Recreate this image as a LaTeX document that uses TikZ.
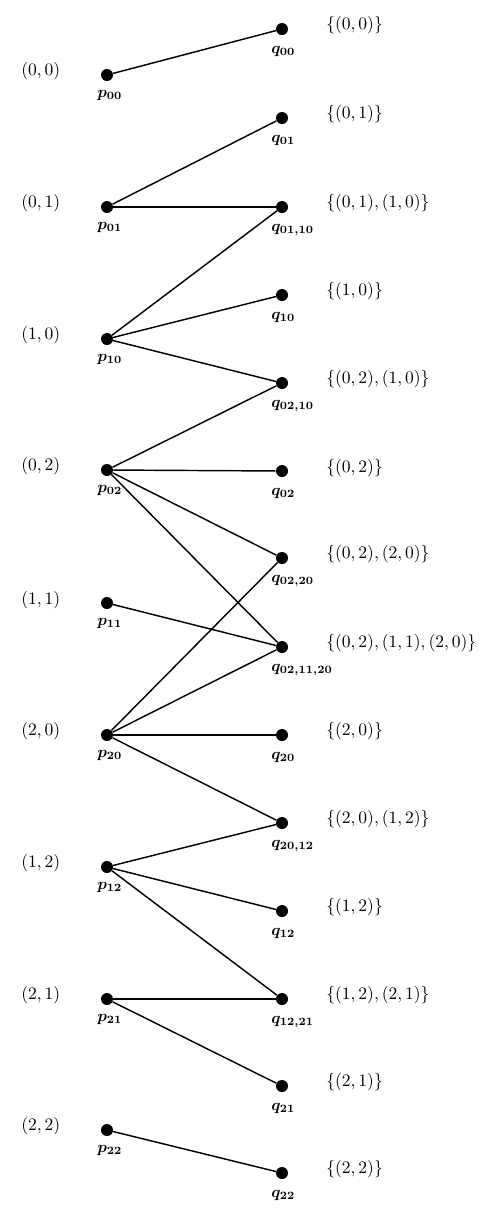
\documentclass[tikz,border=0pt]{standalone}
\begin{document}
\begin{tikzpicture}[x=0.625pt,y=-0.625pt,
  dot/.style={circle,fill=black,inner sep=0pt,minimum size=7.5pt},
  edge/.style={line width=0.9pt},
  sub/.style={anchor=north west,inner sep=0pt,font=\boldmath\fontsize{10}{12}\selectfont},
  coord/.style={anchor=west,inner sep=0pt,font=\fontsize{11}{13}\selectfont},
  setl/.style={anchor=west,inner sep=0pt,font=\fontsize{11}{13}\selectfont}]
\useasboundingbox (0,0) rectangle (490,1214);
% left nodes
\node[dot] (p00) at (107,75) {};
\node[dot] (p01) at (107,207) {};
\node[dot] (p10) at (107,339) {};
\node[dot] (p02) at (107,470) {};
\node[dot] (p11) at (107,603) {};
\node[dot] (p20) at (107,735) {};
\node[dot] (p12) at (107,867) {};
\node[dot] (p21) at (107,999) {};
\node[dot] (p22) at (107,1130) {};
% right nodes
\node[dot] (q00) at (282,29) {};
\node[dot] (q01) at (282,118) {};
\node[dot] (q0110) at (282,207) {};
\node[dot] (q10) at (282,295) {};
\node[dot] (q0210) at (282,383) {};
\node[dot] (q02) at (282,471) {};
\node[dot] (q0220) at (282,558) {};
\node[dot] (q021120) at (282,647) {};
\node[dot] (q20) at (282,735) {};
\node[dot] (q2012) at (282,823) {};
\node[dot] (q12) at (282,911) {};
\node[dot] (q1221) at (282,999) {};
\node[dot] (q21) at (282,1086) {};
\node[dot] (q22) at (282,1173) {};
% edges
\draw[edge] (p00) -- (q00);
\draw[edge] (p01) -- (q01);
\draw[edge] (p01) -- (q0110);
\draw[edge] (p10) -- (q0110);
\draw[edge] (p10) -- (q10);
\draw[edge] (p10) -- (q0210);
\draw[edge] (p02) -- (q0210);
\draw[edge] (p02) -- (q02);
\draw[edge] (p02) -- (q0220);
\draw[edge] (p02) -- (q021120);
\draw[edge] (p11) -- (q021120);
\draw[edge] (p20) -- (q0220);
\draw[edge] (p20) -- (q021120);
\draw[edge] (p20) -- (q20);
\draw[edge] (p20) -- (q2012);
\draw[edge] (p12) -- (q2012);
\draw[edge] (p12) -- (q12);
\draw[edge] (p12) -- (q1221);
\draw[edge] (p21) -- (q1221);
\draw[edge] (p21) -- (q21);
\draw[edge] (p22) -- (q22);
% p labels
\node[sub] (lp00) at (97,90) {$p_{00}$};
\node[sub] (lp01) at (97,222) {$p_{01}$};
\node[sub] (lp10) at (97,354) {$p_{10}$};
\node[sub] (lp02) at (97,485) {$p_{02}$};
\node[sub] (lp11) at (97,618) {$p_{11}$};
\node[sub] (lp20) at (97,750) {$p_{20}$};
\node[sub] (lp12) at (97,882) {$p_{12}$};
\node[sub] (lp21) at (97,1014) {$p_{21}$};
\node[sub] (lp22) at (97,1145) {$p_{22}$};
% q labels
\node[sub] (lq00) at (271,46) {$q_{00}$};
\node[sub] (lq01) at (271,135) {$q_{01}$};
\node[sub] (lq0110) at (271,224) {$q_{01,10}$};
\node[sub] (lq10) at (271,312) {$q_{10}$};
\node[sub] (lq0210) at (271,400) {$q_{02,10}$};
\node[sub] (lq02) at (271,488) {$q_{02}$};
\node[sub] (lq0220) at (271,575) {$q_{02,20}$};
\node[sub] (lq021120) at (271,664) {$q_{02,11,20}$};
\node[sub] (lq20) at (271,752) {$q_{20}$};
\node[sub] (lq2012) at (271,840) {$q_{20,12}$};
\node[sub] (lq12) at (271,928) {$q_{12}$};
\node[sub] (lq1221) at (271,1016) {$q_{12,21}$};
\node[sub] (lq21) at (271,1103) {$q_{21}$};
\node[sub] (lq22) at (271,1190) {$q_{22}$};
% coordinate labels
\node[coord] (c00) at (21,71) {$(0,0)$};
\node[coord] (c01) at (21,203) {$(0,1)$};
\node[coord] (c10) at (21,335) {$(1,0)$};
\node[coord] (c02) at (21,466) {$(0,2)$};
\node[coord] (c11) at (21,600) {$(1,1)$};
\node[coord] (c20) at (21,731) {$(2,0)$};
\node[coord] (c12) at (21,863) {$(1,2)$};
\node[coord] (c21) at (21,995) {$(2,1)$};
\node[coord] (c22) at (21,1126) {$(2,2)$};
% set labels
\node[setl] (s00) at (326,25) {$\{(0,0)\}$};
\node[setl] (s01) at (326,114) {$\{(0,1)\}$};
\node[setl] (s0110) at (326,203) {$\{(0,1),(1,0)\}$};
\node[setl] (s10) at (326,291) {$\{(1,0)\}$};
\node[setl] (s0210) at (326,379) {$\{(0,2),(1,0)\}$};
\node[setl] (s02) at (326,468) {$\{(0,2)\}$};
\node[setl] (s0220) at (326,554) {$\{(0,2),(2,0)\}$};
\node[setl] (s021120) at (326,643) {$\{(0,2),(1,1),(2,0)\}$};
\node[setl] (s20) at (326,731) {$\{(2,0)\}$};
\node[setl] (s2012) at (326,819) {$\{(2,0),(1,2)\}$};
\node[setl] (s12) at (326,907) {$\{(1,2)\}$};
\node[setl] (s1221) at (326,995) {$\{(1,2),(2,1)\}$};
\node[setl] (s21) at (326,1082) {$\{(2,1)\}$};
\node[setl] (s22) at (326,1169) {$\{(2,2)\}$};
\end{tikzpicture}
\end{document}
